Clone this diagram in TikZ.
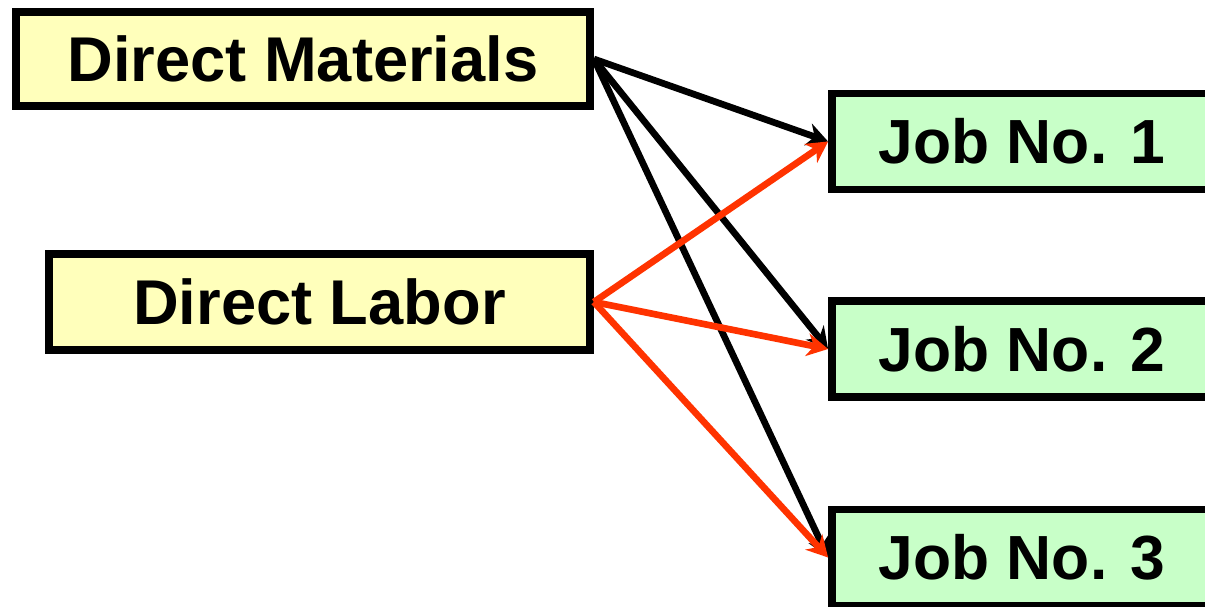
\documentclass[tikz,border=0pt]{standalone}
\usepackage{fontspec}
\setmainfont{Liberation Sans}
\usetikzlibrary{positioning, arrows.meta}
\definecolor{costyellow}{RGB}{255,255,187}
\definecolor{jobgreen}{RGB}{200,255,200}
\definecolor{laborred}{RGB}{255,51,0}
\tikzstyle{arrow} = [line width=3.8pt,->,>={Stealth[length=12pt, width=13pt]}]
\tikzstyle{cost} = [rectangle, line width=4.5pt, minimum height=1.88cm, inner sep=0pt, text centered, draw=black, fill=costyellow, font=\bfseries\fontsize{36}{40}\selectfont]
\tikzstyle{job} = [rectangle, line width=4.5pt, minimum width=7.6cm, minimum height=1.92cm, inner sep=0pt, text centered, draw=black, fill=jobgreen, font=\bfseries\fontsize{35.5}{40}\selectfont]

\begin{document}
\begin{tikzpicture}[x=0.02cm, y=-0.02cm]
        \clip (0,0) rectangle (1205,607);
        \node (materials) [cost, minimum width=11.48cm] at (303,59) {Direct Materials};
        \node (labor) [cost, minimum width=10.82cm, minimum height=1.92cm] at (319.5,302) {Direct Labor};
        \node (job1) [job] at (1022,141.5) {Job No. 1};
        \node (job2) [job] at (1022,349) {Job No. 2};
        \node (job3) [job] at (1022,557.5) {Job No. 3};

        \draw [arrow] (materials.east) -- (job1.west);
        \draw [arrow] (materials.east) -- (job2.west);
        \draw [arrow] (materials.east) -- (job3.west);
        \draw [arrow, laborred] (labor.east) -- (job1.west);
        \draw [arrow, laborred] (labor.east) -- (job2.west);
        \draw [arrow, laborred] (labor.east) -- (job3.west);
\end{tikzpicture}
\end{document}
